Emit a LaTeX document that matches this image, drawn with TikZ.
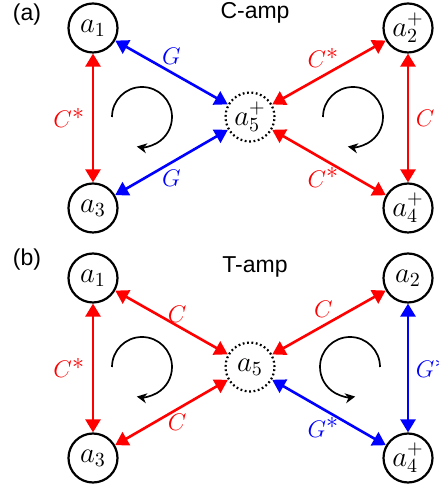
\documentclass[tikz,border=0pt]{standalone}
\usepackage{fontspec}
\setsansfont{Liberation Sans}
\usetikzlibrary{arrows.meta}

\begin{document}
\begin{tikzpicture}[x=0.5pt, y=0.5pt, >={Triangle[length=6.5pt,width=7.5pt]},
  mode/.style={circle, draw, line width=1.1pt, minimum size=24.5pt, inner sep=0pt, font=\Large},
  aux/.style={mode, dash pattern=on 0.9pt off 1.3pt},
  link/.style={<->, line width=1.3pt},
  lbl/.style={font=\fontsize{13}{15}\selectfont},
  turn/.style={-{Stealth[length=5pt,width=5pt]}, line width=0.85pt},
  title/.style={font=\sffamily\fontsize{11.5}{13}\selectfont}]
  \useasboundingbox (0,0) rectangle (438,491);

  % (a) C-amp
  \node[title] at (27,476) {(a)};
  \node[title] at (255,478) {C-amp};
  \node[mode] (ca1) at (93,463) {$a_1$};
  \node[mode] (ca3) at (93,283) {$a_3$};
  \node[aux]  (ca5) at (250,374) {$a_5^+$};
  \node[mode] (ca2) at (408,463) {$a_2^+$};
  \node[mode] (ca4) at (408,283) {$a_4^+$};
  \draw[link, red]  (ca1) -- (ca3) node[midway, left, lbl] {$C^{\textstyle *}$};
  \draw[link, blue] (ca1) -- (ca5) node[midway, above, lbl] {$G$};
  \draw[link, blue] (ca3) -- (ca5) node[midway, below, lbl] {$G$};
  \draw[link, red]  (ca5) -- (ca2) node[pos=0.45, above, lbl] {$C^{\textstyle *}$};
  \draw[link, red]  (ca5) -- (ca4) node[pos=0.45, below, lbl] {$C^{\textstyle *}$};
  \draw[link, red]  (ca2) -- (ca4) node[midway, right, lbl] {$C$};
  \draw[turn] (112,374) arc[start angle=180, end angle=-100, radius=15pt];
  \draw[turn] (323,374) arc[start angle=180, end angle=-100, radius=15pt];

  % (b) T-amp
  \node[title] at (27,231) {(b)};
  \node[title] at (255,224) {T-amp};
  \node[mode] (ta1) at (93,213) {$a_1$};
  \node[mode] (ta3) at (93,33) {$a_3$};
  \node[aux]  (ta5) at (250,124) {$a_5$};
  \node[mode] (ta2) at (408,213) {$a_2$};
  \node[mode] (ta4) at (408,33) {$a_4^+$};
  \draw[link, red]  (ta1) -- (ta3) node[midway, left, lbl] {$C^{\textstyle *}$};
  \draw[link, red]  (ta1) -- (ta5) node[pos=0.55, above, lbl, inner sep=1pt] {$C$};
  \draw[link, red]  (ta3) -- (ta5) node[pos=0.55, below, lbl, inner sep=2pt] {$C$};
  \draw[link, red]  (ta5) -- (ta2) node[pos=0.45, above, lbl] {$C$};
  \draw[link, blue] (ta5) -- (ta4) node[pos=0.45, below, lbl] {$G^{\textstyle *}$};
  \draw[link, blue] (ta2) -- (ta4) node[midway, right, lbl] {$G^{\textstyle *}$};
  \draw[turn] (112,124) arc[start angle=180, end angle=-100, radius=15pt];
  \draw[turn] (380,124) arc[start angle=0, end angle=280, radius=15pt];
\end{tikzpicture}
\end{document}
